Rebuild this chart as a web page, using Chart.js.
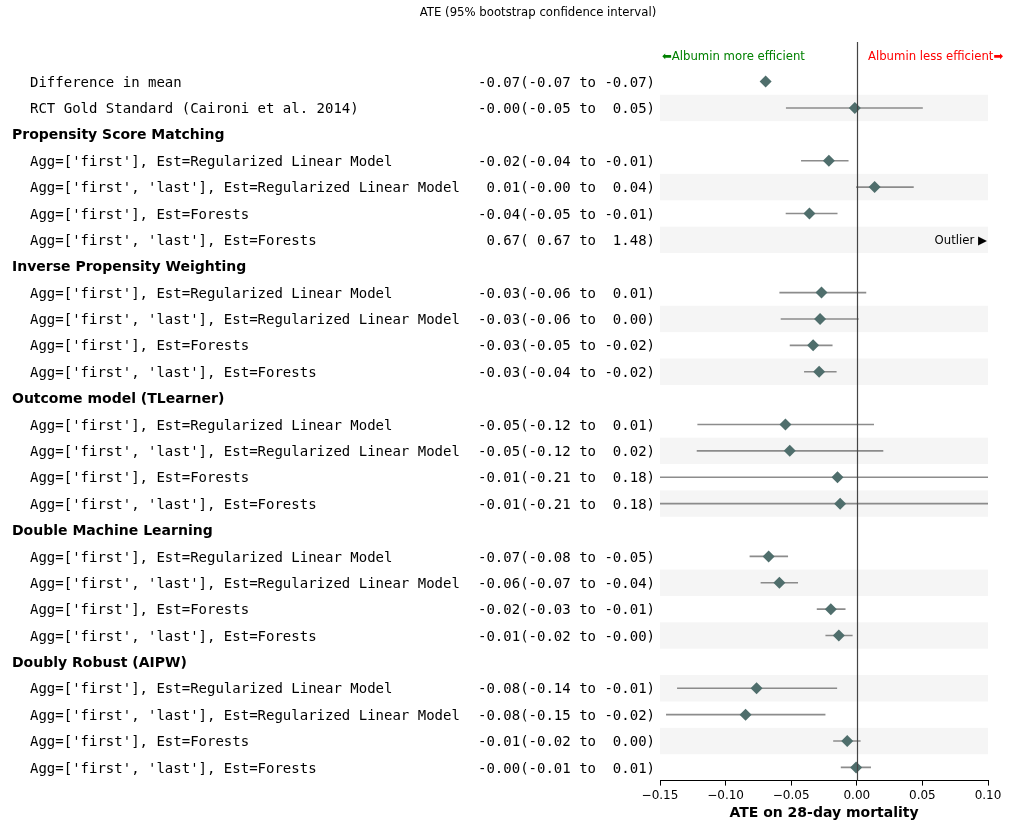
<!DOCTYPE html>
<html>
<head>
<meta charset="utf-8">
<script src="https://cdn.jsdelivr.net/npm/chart.js@4.4.1/dist/chart.umd.min.js"></script>
<style>
  html, body { margin: 0; padding: 0; background: #fff; }
  #wrap { width: 1017px; height: 821px; position: relative; }
</style>
</head>
<body>
<div id="wrap"><canvas id="forestChart"></canvas></div>
<script>
// rows from top to bottom; headers have no estimate
const rowLabels = [
  "Difference in mean",
  "RCT Gold Standard (Caironi et al. 2014)",
  "Propensity Score Matching",
  "Agg=['first'], Est=Regularized Linear Model",
  "Agg=['first', 'last'], Est=Regularized Linear Model",
  "Agg=['first'], Est=Forests",
  "Agg=['first', 'last'], Est=Forests",
  "Inverse Propensity Weighting",
  "Agg=['first'], Est=Regularized Linear Model",
  "Agg=['first', 'last'], Est=Regularized Linear Model",
  "Agg=['first'], Est=Forests",
  "Agg=['first', 'last'], Est=Forests",
  "Outcome model (TLearner)",
  "Agg=['first'], Est=Regularized Linear Model",
  "Agg=['first', 'last'], Est=Regularized Linear Model",
  "Agg=['first'], Est=Forests",
  "Agg=['first', 'last'], Est=Forests",
  "Double Machine Learning",
  "Agg=['first'], Est=Regularized Linear Model",
  "Agg=['first', 'last'], Est=Regularized Linear Model",
  "Agg=['first'], Est=Forests",
  "Agg=['first', 'last'], Est=Forests",
  "Doubly Robust (AIPW)",
  "Agg=['first'], Est=Regularized Linear Model",
  "Agg=['first', 'last'], Est=Regularized Linear Model",
  "Agg=['first'], Est=Forests",
  "Agg=['first', 'last'], Est=Forests",
];

const headerRows = [2, 7, 12, 17, 22];
const shadedRows = [1, 4, 6, 9, 11, 14, 16, 19, 21, 23, 25];
const outlierRows = [6];

const ciText = [
  "-0.07(-0.07 to -0.07)",
  "-0.00(-0.05 to  0.05)",
  "",
  "-0.02(-0.04 to -0.01)",
  " 0.01(-0.00 to  0.04)",
  "-0.04(-0.05 to -0.01)",
  " 0.67( 0.67 to  1.48)",
  "",
  "-0.03(-0.06 to  0.01)",
  "-0.03(-0.06 to  0.00)",
  "-0.03(-0.05 to -0.02)",
  "-0.03(-0.04 to -0.02)",
  "",
  "-0.05(-0.12 to  0.01)",
  "-0.05(-0.12 to  0.02)",
  "-0.01(-0.21 to  0.18)",
  "-0.01(-0.21 to  0.18)",
  "",
  "-0.07(-0.08 to -0.05)",
  "-0.06(-0.07 to -0.04)",
  "-0.02(-0.03 to -0.01)",
  "-0.01(-0.02 to -0.00)",
  "",
  "-0.08(-0.14 to -0.01)",
  "-0.08(-0.15 to -0.02)",
  "-0.01(-0.02 to  0.00)",
  "-0.00(-0.01 to  0.01)",
];

const ate = [
  -0.0695, -0.0015, null, -0.0213, 0.0136, -0.0361, 0.67,
  null, -0.0269, -0.0280, -0.0333, -0.0287,
  null, -0.0544, -0.0511, -0.0147, -0.0127,
  null, -0.0672, -0.0590, -0.0198, -0.0137,
  null, -0.0764, -0.0848, -0.0073, -0.0005,
];
const ciLow = [
  -0.0700, -0.0540, null, -0.0425, -0.0005, -0.0542, 0.67,
  null, -0.0590, -0.0580, -0.0511, -0.0402,
  null, -0.1215, -0.1220, -0.21, -0.21,
  null, -0.0817, -0.0733, -0.0305, -0.0239,
  null, -0.1370, -0.1454, -0.0180, -0.0122,
];
const ciHigh = [
  -0.0690, 0.0503, null, -0.0063, 0.0434, -0.0147, 1.48,
  null, 0.0072, 0.0014, -0.0185, -0.0154,
  null, 0.0131, 0.0202, 0.18, 0.18,
  null, -0.0524, -0.0448, -0.0086, -0.0032,
  null, -0.0150, -0.0239, 0.0029, 0.0108,
];

const xTicks = [-0.15, -0.10, -0.05, 0.00, 0.05, 0.10];

const points = [];
ate.forEach((v, i) => {
  if (v !== null) points.push({ x: v, y: i });
});

const MONO = "'DejaVu Sans Mono', monospace";
const SANS = "'DejaVu Sans', sans-serif";
const TEXT_DY = 1.5; // canvas 'middle' sits a bit high for DejaVu

const forestPlugin = {
  id: "forest",
  beforeDatasetsDraw(chart) {
    const { ctx, chartArea: ca, scales } = chart;
    const x = scales.x, y = scales.y;
    ctx.save();
    // alternating bands
    ctx.fillStyle = "#f5f5f5";
    shadedRows.forEach((i) => {
      const top = y.getPixelForValue(i - 0.5);
      const bot = y.getPixelForValue(i + 0.5);
      ctx.fillRect(ca.left, top, ca.right - ca.left, bot - top);
    });
    // confidence intervals
    ctx.beginPath();
    ctx.rect(ca.left, ca.top, ca.right - ca.left, ca.bottom - ca.top);
    ctx.clip();
    ctx.strokeStyle = "rgba(128,128,128,0.9)";
    ctx.lineWidth = 1.6;
    ate.forEach((v, i) => {
      if (v === null) return;
      const py = y.getPixelForValue(i);
      ctx.beginPath();
      ctx.moveTo(x.getPixelForValue(ciLow[i]), py);
      ctx.lineTo(x.getPixelForValue(ciHigh[i]), py);
      ctx.stroke();
    });
    ctx.restore();
  },
  afterDatasetsDraw(chart) {
    const { ctx, chartArea: ca, scales } = chart;
    const x = scales.x, y = scales.y;
    ctx.save();
    // zero line
    const zx = Math.round(x.getPixelForValue(0)) + 0.5;
    ctx.strokeStyle = "#444";
    ctx.lineWidth = 1.2;
    ctx.beginPath();
    ctx.moveTo(zx, ca.top);
    ctx.lineTo(zx, ca.bottom);
    ctx.stroke();

    // row labels and CI text
    ctx.textBaseline = "middle";
    rowLabels.forEach((label, i) => {
      const py = y.getPixelForValue(i) + TEXT_DY;
      ctx.fillStyle = "#000";
      if (headerRows.includes(i)) {
        ctx.font = "bold 14px " + SANS;
        ctx.textAlign = "left";
        ctx.fillText(label, 12, py);
      } else {
        ctx.font = "14px " + MONO;
        ctx.textAlign = "left";
        ctx.fillText(label, 30, py);
        ctx.textAlign = "right";
        ctx.fillText(ciText[i], 655, py);
      }
    });

    // outlier marker
    ctx.font = "11.7px " + SANS;
    ctx.textAlign = "right";
    outlierRows.forEach((i) => {
      ctx.fillText("Outlier \u25B6", ca.right - 1, y.getPixelForValue(i) + TEXT_DY);
    });

    // direction annotations
    const ay = y.getPixelForValue(-1) + TEXT_DY;
    ctx.font = "11.7px " + SANS;
    ctx.textAlign = "left";
    ctx.fillStyle = "green";
    ctx.fillText("\u2B05Albumin more efficient", x.getPixelForValue(-0.15) + 2, ay);
    ctx.fillStyle = "red";
    ctx.fillText("Albumin less efficient\u27A1", x.getPixelForValue(0.0085), ay);

    // header
    ctx.font = "11.7px " + SANS;
    ctx.fillStyle = "#000";
    ctx.textAlign = "center";
    ctx.fillText("ATE (95% bootstrap confidence interval)", 538, 13);
    ctx.restore();
  },
};

new Chart(document.getElementById("forestChart"), {
  type: "scatter",
  data: {
    datasets: [
      {
        data: points,
        pointStyle: "rectRot",
        pointRadius: 6,
        pointBackgroundColor: "#4f6e6c",
        pointBorderColor: "#4f6e6c",
        pointBorderWidth: 0,
      },
    ],
  },
  options: {
    responsive: true,
    maintainAspectRatio: false,
    animation: false,
    layout: { autoPadding: false, padding: { left: 660, right: 29, top: 42, bottom: 0 } },
    plugins: {
      legend: { display: false },
      tooltip: { enabled: false },
      title: { display: false },
    },
    scales: {
      x: {
        type: "linear",
        min: -0.15,
        max: 0.1,
        afterBuildTicks: (scale) => {
          scale.ticks = xTicks.map((v) => ({ value: v }));
        },
        ticks: {
          color: "#000",
          font: { family: SANS, size: 12, lineHeight: 1.0 },
          padding: 4,
          maxRotation: 0,
          callback: (v) => v.toFixed(2).replace("-", "\u2212"),
        },
        grid: {
          drawOnChartArea: false,
          drawTicks: true,
          tickLength: 5,
          color: "#000",
        },
        border: { display: true, color: "#000", width: 1 },
        title: {
          display: true,
          text: "ATE on 28-day mortality",
          color: "#000",
          font: { family: SANS, size: 14, weight: "bold", lineHeight: 1.1 },
          padding: { top: 0, bottom: 0 },
        },
      },
      y: {
        type: "linear",
        min: -1.5,
        max: 26.5,
        reverse: true,
        display: false,
      },
    },
  },
  plugins: [forestPlugin],
});
</script>
</body>
</html>
